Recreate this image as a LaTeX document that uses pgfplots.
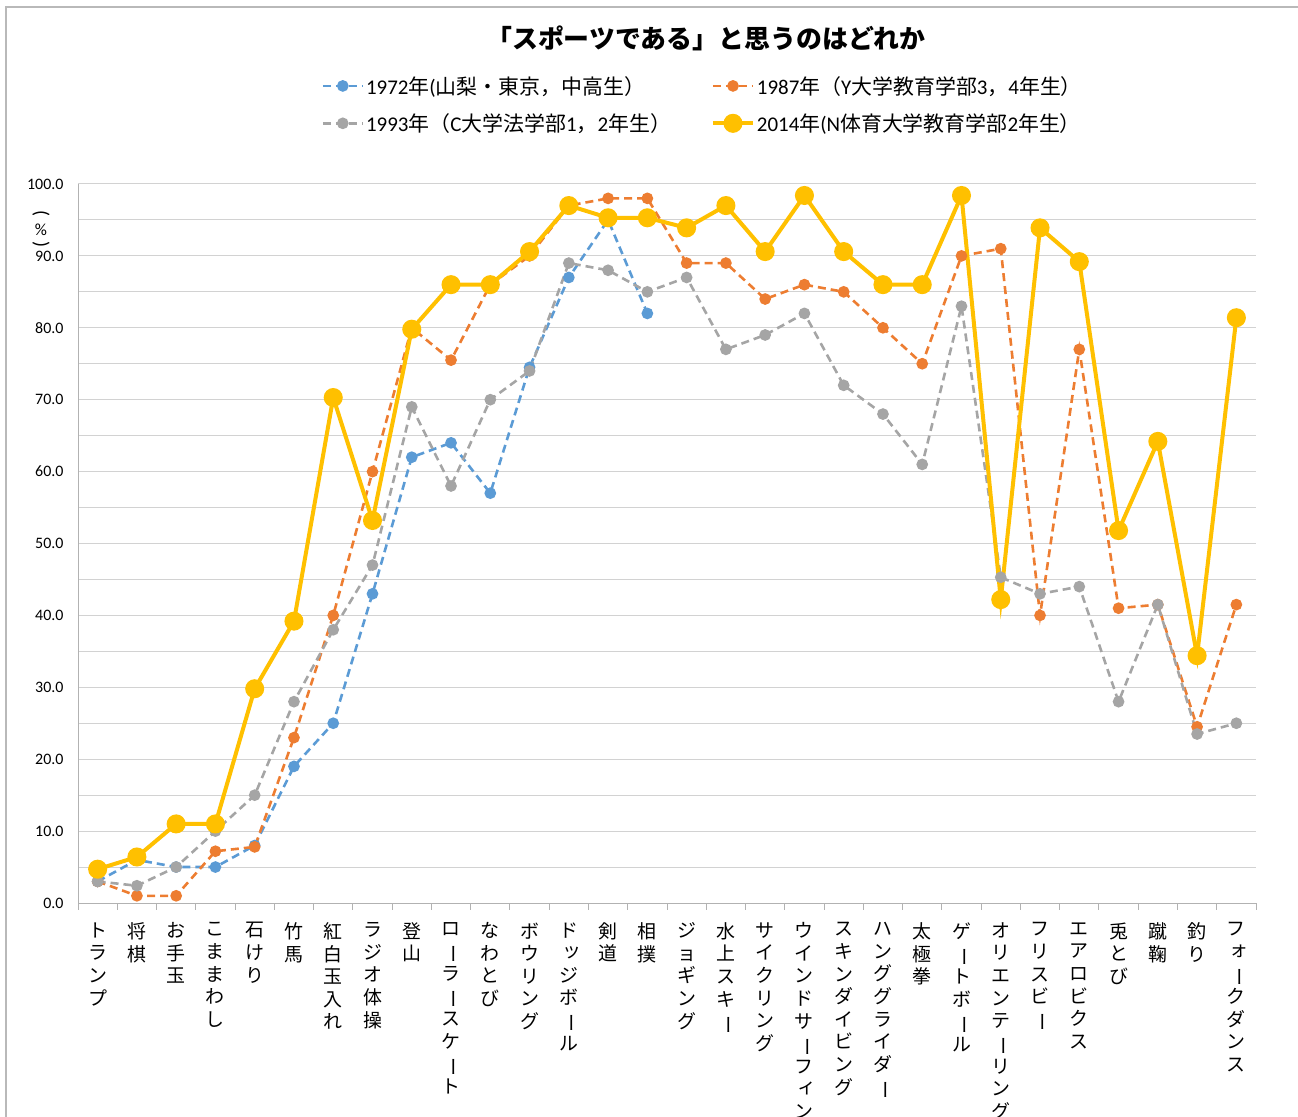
\documentclass[border=0pt]{standalone}
\usepackage{pgfplots}
\pgfplotsset{compat=1.18}
\usepackage{graphicx}
\usepackage{fontspec}
\setmainfont{Carlito}
\newfontfamily\cjk{Noto Sans CJK JP}
\definecolor{c72}{HTML}{5B9BD5}
\definecolor{c87}{HTML}{ED7D31}
\definecolor{c93}{HTML}{A5A5A5}
\definecolor{c14}{HTML}{FFC000}
\newcommand\vb{\rotatebox[origin=c]{-90}{ー}}
\newcommand\sk[1]{\raisebox{0.12em}{\makebox[1em][c]{\hspace{0.3em}#1}}}
\begin{document}
\begin{tikzpicture}
\useasboundingbox (0,0) rectangle (1298bp,1117bp);
\draw[gray!55, line width=1.5bp] (6bp,0) -- (6bp,1110bp) -- (1298bp,1110bp);
\node[font=\cjk\bfseries\fontsize{26}{30}\selectfont] at (706bp,1079bp) {「スポーツである」と思うのはどれか};
\node[font=\fontsize{20}{20}\selectfont, rotate=-90, inner sep=0pt] at (41bp,903bp) {(};
\node[font=\fontsize{17}{17}\selectfont, inner sep=0pt] at (41bp,887bp) {\%};
\node[font=\fontsize{20}{20}\selectfont, rotate=-90, inner sep=0pt] at (41bp,872bp) {)};
\begin{axis}[
  at={(78bp,214bp)}, anchor=south west,
  scale only axis, width=1178bp, height=719bp,
  xmin=-0.5, xmax=29.5, ymin=0, ymax=100,
  axis lines=left,
  axis line style={-, draw=gray!60, line width=1bp},
  xtick={0,...,29},
  xticklabels={
    {ト\\ラ\\ン\\プ},
    {将\\棋},
    {お\\手\\玉},
    {こ\\ま\\ま\\わ\\し},
    {石\\け\\り},
    {竹\\馬},
    {紅\\白\\玉\\入\\れ},
    {ラ\\ジ\\オ\\体\\操},
    {登\\山},
    {ロ\\\vb\\ラ\\\vb\\ス\\ケ\\\vb\\ト},
    {な\\わ\\と\\び},
    {ボ\\ウ\\リ\\ン\\グ},
    {ド\\\sk{ッ}\\ジ\\ボ\\\vb\\ル},
    {剣\\道},
    {相\\撲},
    {ジ\\ョ\\ギ\\ン\\グ},
    {水\\上\\ス\\キ\\\vb},
    {サ\\イ\\ク\\リ\\ン\\グ},
    {ウ\\イ\\ン\\ド\\サ\\\vb\\フ\\\sk{ィ}\\ン},
    {ス\\キ\\ン\\ダ\\イ\\ビ\\ン\\グ},
    {ハ\\ン\\グ\\グ\\ラ\\イ\\ダ\\\vb},
    {太\\極\\拳},
    {ゲ\\\vb\\ト\\ボ\\\vb\\ル},
    {オ\\リ\\エ\\ン\\テ\\\vb\\リ\\ン\\グ},
    {フ\\リ\\ス\\ビ\\\vb},
    {エ\\ア\\ロ\\ビ\\ク\\ス},
    {兎\\と\\び},
    {蹴\\鞠},
    {釣\\り},
    {フ\\\sk{ォ}\\\vb\\ク\\ダ\\ン\\ス}
  },
  xticklabel style={font=\cjk\fontsize{19}{22.7}\selectfont, align=center, anchor=north, yshift=-16bp},
  extra x ticks={-0.5,0.5,...,29.5},
  extra x tick labels={},
  extra x tick style={major tick length=7bp, tick align=outside, grid=none},
  major tick length=0pt, minor tick length=0pt,
  tick style={draw=gray!60, line width=1bp},
  ytick={0,10,...,100},
  minor ytick={5,15,...,95},
  ymajorgrids, yminorgrids,
  major grid style={draw=gray!35, line width=1bp},
  minor grid style={draw=gray!35, line width=1bp},
  yticklabel style={font=\fontsize{16}{16}\selectfont, xshift=-11bp},
  /pgf/number format/.cd, fixed, fixed zerofill, precision=1, assume math mode=true,
  /pgfplots/.cd,
  legend columns=2,
  legend cell align=left,
  legend style={draw=none, fill=none, font=\fontsize{21}{25}\selectfont,
    at={(0.204,1.1557)}, anchor=north west,
    /tikz/every even column/.append style={column sep=38bp},
    row sep=14bp},
  legend image code/.code={\draw[mark repeat=2,mark phase=2] plot coordinates {(0bp,0bp)(20bp,0bp)(40bp,0bp)};},
]
\addplot[c72, line width=2.6bp, dash pattern=on 8bp off 5bp, mark=*, mark size=4.5bp, mark options={solid}]
coordinates {(0,3)(1,6)(2,5)(3,5)(4,8)(5,19)(6,25)(7,43)(8,62)(9,64)(10,57)(11,74.5)(12,87)(13,95)(14,82)};
\addlegendentry{1972{\cjk 年}({\cjk 山梨・東京，中高生）}}
\addplot[c87, line width=2.6bp, dash pattern=on 8bp off 5bp, mark=*, mark size=4.5bp, mark options={solid}]
coordinates {(0,3)(1,1)(2,1)(3,7.2)(4,7.8)(5,23)(6,40)(7,60)(8,80)(9,75.5)(10,86)(11,90)(12,97)(13,98)(14,98)(15,89)(16,89)(17,84)(18,86)(19,85)(20,80)(21,75)(22,90)(23,91)(24,40)(25,77)(26,41)(27,41.5)(28,24.5)(29,41.5)};
\addlegendentry{1987{\cjk 年（}Y{\cjk 大学教育学部}3{\cjk ，}4{\cjk 年生）}}
\addplot[c93, line width=2.6bp, dash pattern=on 8bp off 5bp, mark=*, mark size=4.5bp, mark options={solid}]
coordinates {(0,3)(1,2.4)(2,5)(3,10)(4,15)(5,28)(6,38)(7,47)(8,69)(9,58)(10,70)(11,74)(12,89)(13,88)(14,85)(15,87)(16,77)(17,79)(18,82)(19,72)(20,68)(21,61)(22,83)(23,45.3)(24,43)(25,44)(26,28)(27,41.5)(28,23.5)(29,25)};
\addlegendentry{1993{\cjk 年（}C{\cjk 大学法学部}1{\cjk ，}2{\cjk 年生）}}
\addplot[c14, line width=4bp, mark=*, mark size=7.5bp]
coordinates {(0,4.7)(1,6.4)(2,11)(3,11)(4,29.8)(5,39.2)(6,70.3)(7,53.2)(8,79.8)(9,86)(10,86)(11,90.6)(12,97)(13,95.3)(14,95.3)(15,93.9)(16,97)(17,90.6)(18,98.4)(19,90.6)(20,86)(21,86)(22,98.4)(23,42.2)(24,93.9)(25,89.2)(26,51.8)(27,64.2)(28,34.4)(29,81.4)};
\addlegendentry{2014{\cjk 年}(N{\cjk 体育大学教育学部}2{\cjk 年生）}}
\end{axis}
\end{tikzpicture}
\end{document}
